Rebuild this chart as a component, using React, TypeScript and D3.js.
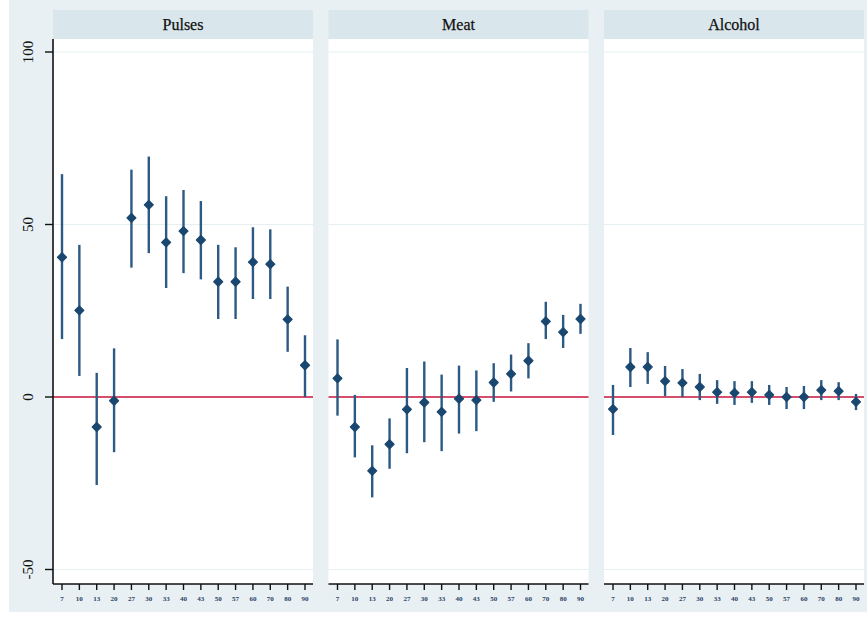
import React from "react";
import * as d3 from "d3";

const panels = ["Pulses", "Meat", "Alcohol"];
const categories = ["7", "10", "13", "20", "27", "30", "33", "40", "43", "50", "57", "60", "70", "80", "90"];
const yTicks = [-50, 0, 50, 100];

const pulsesEst = [40.5, 25.1, -8.7, -1.1, 51.9, 55.7, 44.8, 48.1, 45.5, 33.4, 33.4, 39.1, 38.5, 22.5, 9.2];
const pulsesLo = [16.8, 6.1, -25.5, -16, 37.5, 41.7, 31.6, 35.9, 34.1, 22.6, 22.6, 28.4, 28.4, 13.1, 0.0];
const pulsesHi = [64.6, 44.1, 7.0, 14.1, 65.9, 69.7, 58.2, 60.0, 56.8, 44.1, 43.4, 49.2, 48.6, 32.0, 17.9];

const meatEst = [5.4, -8.7, -21.4, -13.7, -3.6, -1.6, -4.3, -0.5, -0.9, 4.2, 6.7, 10.5, 21.9, 18.8, 22.6];
const meatLo = [-5.4, -17.5, -29.1, -20.8, -16.3, -13.1, -15.7, -10.6, -9.9, -1.4, 1.6, 5.4, 16.8, 14.2, 18.3];
const meatHi = [16.7, 0.6, -14.0, -6.2, 8.4, 10.3, 6.5, 9.1, 7.7, 9.8, 12.3, 15.6, 27.6, 23.8, 27.0];

const alcEst = [-3.5, 8.7, 8.7, 4.6, 4.1, 2.9, 1.4, 1.2, 1.4, 0.6, 0.0, 0.0, 2.0, 1.7, -1.4];
const alcLo = [-11, 2.9, 3.8, 0.3, 0.0, -0.9, -2.0, -2.3, -1.7, -2.3, -3.5, -3.5, -0.9, -0.9, -3.8];
const alcHi = [3.5, 14.2, 13, 9, 8.1, 6.7, 4.9, 4.6, 4.6, 3.5, 2.9, 3.2, 4.9, 4.3, 0.9];

const series = [
  { est: pulsesEst, lo: pulsesLo, hi: pulsesHi },
  { est: meatEst, lo: meatLo, hi: meatHi },
  { est: alcEst, lo: alcLo, hi: alcHi },
];

const W = 867;
const H = 619;
const panelX = [53, 328.5, 604];
const panelW = 260;
const headerTop = 10;
const plotTop = 39;
const plotBottom = 584;

export default function App() {
  const y = d3.scaleLinear().domain([-50, 100]).range([569.5, 52]);
  const navy = "#1a476f";
  const line = "#2c5a85";
  const serif = "'Liberation Serif', 'DejaVu Serif', serif";

  return (
    <svg width={W} height={H} style={{ position: "absolute", left: 0, top: 0, background: "#ffffff" }}>
      <rect x={9} y={0} width={W - 9} height={612} fill="#e8f0f3" />
      {panels.map((name, pi) => {
        const x0 = panelX[pi];
        const x = d3.scalePoint<string>().domain(categories).range([x0 + 9, x0 + panelW - 8]);
        const s = series[pi];
        return (
          <g key={name}>
            <rect x={x0} y={headerTop} width={panelW} height={plotTop - headerTop} fill="#d9e6ec" />
            <text x={x0 + panelW / 2} y={headerTop + 19.5} textAnchor="middle" fontFamily={serif} fontSize={16} fill="#111" stroke="#111" strokeWidth={0.25}>
              {name}
            </text>
            <rect x={x0} y={plotTop} width={panelW} height={plotBottom - plotTop} fill="#ffffff" />
            {yTicks.filter((t) => t !== 0).map((t) => (
              <line key={t} x1={x0} x2={x0 + panelW} y1={y(t)} y2={y(t)} stroke="#e6eff2" strokeWidth={1.2} />
            ))}
            <line x1={x0} x2={x0 + panelW} y1={y(0)} y2={y(0)} stroke="#c8133c" strokeWidth={1.6} />
            {categories.map((c, i) => (
              <line key={"ci" + c} x1={x(c)!} x2={x(c)!} y1={y(s.lo[i])} y2={y(s.hi[i])} stroke={line} strokeWidth={2.4} />
            ))}
            {categories.map((c, i) => {
              const cx = x(c)!;
              const cy = y(s.est[i]);
              const r = 4.5;
              return (
                <path key={"pt" + c} d={`M${cx},${cy - r}L${cx + r},${cy}L${cx},${cy + r}L${cx - r},${cy}Z`} fill={navy} stroke={navy} strokeWidth={1.2} strokeLinejoin="round" />
              );
            })}
            <line x1={x0} x2={x0 + panelW} y1={plotBottom} y2={plotBottom} stroke="#111" strokeWidth={1.6} />
            {categories.map((c) => (
              <g key={"xt" + c}>
                <line x1={x(c)!} x2={x(c)!} y1={plotBottom} y2={plotBottom + 6} stroke="#111" strokeWidth={1.4} />
                <text x={x(c)!} y={plotBottom + 17} textAnchor="middle" fontFamily={serif} fontSize={7} fontWeight="bold" fill="#2a3f66">
                  {c}
                </text>
              </g>
            ))}
          </g>
        );
      })}
      <line x1={53} x2={53} y1={plotTop} y2={plotBottom} stroke="#111" strokeWidth={1.6} />
      {yTicks.map((t) => (
        <g key={"yt" + t}>
          <line x1={45} x2={53} y1={y(t)} y2={y(t)} stroke="#111" strokeWidth={1.4} />
          <text transform={`translate(33,${y(t)}) rotate(-90)`} textAnchor="middle" fontFamily={serif} fontSize={15} fill="#111">
            {t}
          </text>
        </g>
      ))}
    </svg>
  );
}
